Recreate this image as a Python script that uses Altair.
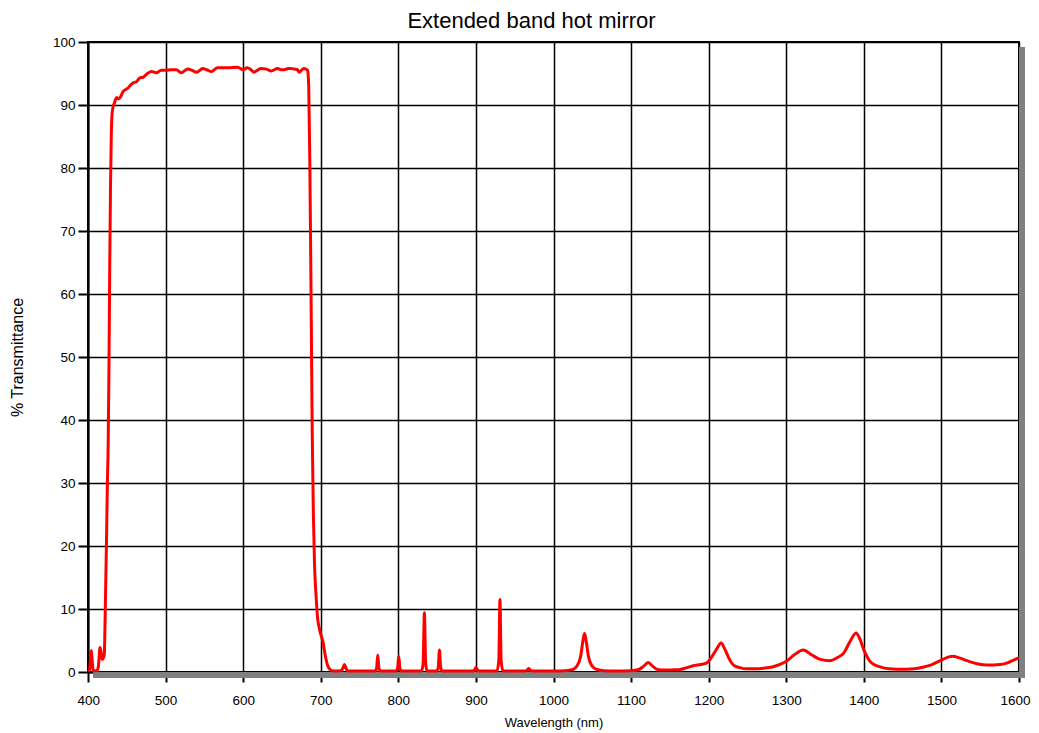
import altair as alt
import pandas as pd

wavelength = [400, 402, 403.2, 404.3, 405.3, 406.5, 411.5, 413.5, 415.5, 417, 418.5, 420, 421,
              422, 423, 424, 425, 426, 427, 428, 429, 430, 431, 432.5, 434, 435.5, 437, 438.5,
              440, 442, 445, 448, 451.6, 455, 458, 462.5, 466.8, 471, 475.6, 479, 482, 486,
              488.6, 492, 495, 501, 507, 514, 520, 524, 529, 534, 540, 548, 553, 559, 567,
              580, 593, 600, 605, 610, 614, 618, 623, 630, 636, 644.5, 649, 653, 658, 661,
              666, 670, 672, 675, 678, 681, 683, 684.5, 686, 687.5, 689, 690.5, 692, 694,
              696, 698, 700, 703, 706, 709, 712, 716, 726, 728.5, 730.5, 732.5, 735,
              770, 772, 773.5, 775, 777, 797, 799, 800.5, 802, 804,
              830, 832, 833.6, 835.2, 837, 849.5, 851.5, 853, 854.5, 856.5,
              896, 898.5, 900, 901.5, 904, 927, 929.5, 931, 932.5, 935,
              963, 966, 968, 970, 973, 1000, 1015, 1025, 1030, 1035, 1038, 1040, 1042,
              1045, 1050, 1056, 1065, 1080, 1100, 1110, 1116, 1122, 1128, 1134, 1145,
              1155, 1163, 1172, 1180, 1190, 1197, 1203, 1210, 1216, 1221, 1226, 1232,
              1240, 1249, 1260, 1271, 1282, 1292, 1300, 1310, 1322, 1333, 1344, 1356,
              1366, 1374, 1382, 1390, 1395, 1400, 1408.6, 1421, 1432, 1443, 1455, 1465,
              1476, 1486, 1500, 1514, 1524, 1533, 1546, 1559, 1576, 1586, 1593, 1600]

transmittance = [0.2, 0.3, 2.0, 3.4, 2.0, 0.2, 0.2, 1.0, 3.9, 3.0, 2.0, 2.3, 2.8,
                 8, 15, 22, 30, 36, 48, 64, 77, 85, 88.5, 89.8, 90.3, 90.9, 91.2, 91.0,
                 91.0, 91.3, 92.1, 92.4, 92.7, 93.2, 93.5, 93.7, 94.3, 94.4, 94.9, 95.2, 95.3, 95.2,
                 95.1, 95.4, 95.5, 95.5, 95.6, 95.6, 95.1, 95.4, 95.7, 95.5, 95.2, 95.8, 95.6, 95.3, 95.9,
                 95.9, 96.0, 95.6, 95.9, 95.6, 95.2, 95.5, 95.8, 95.7, 95.4, 95.8, 95.6, 95.6, 95.8, 95.8,
                 95.7, 95.6, 95.2, 95.5, 95.8, 95.7, 95.5, 93, 80, 60, 38, 25, 17, 12,
                 8.5, 7, 6, 4.7, 2.5, 1.0, 0.4, 0.15, 0.2, 0.6, 1.2, 0.6, 0.15,
                 0.15, 0.6, 2.7, 0.6, 0.15, 0.15, 0.6, 2.5, 0.6, 0.15,
                 0.15, 1.5, 9.4, 1.5, 0.15, 0.15, 0.8, 3.5, 0.8, 0.15,
                 0.15, 0.4, 0.7, 0.4, 0.15, 0.15, 1.8, 11.5, 1.8, 0.15,
                 0.15, 0.3, 0.55, 0.3, 0.15, 0.15, 0.2, 0.4, 0.9, 2.5, 5, 6.1, 5,
                 2.5, 0.9, 0.4, 0.2, 0.15, 0.2, 0.4, 0.9, 1.5, 0.9, 0.4, 0.3,
                 0.35, 0.4, 0.7, 1.0, 1.2, 1.4, 2.2, 3.6, 4.6, 3.6, 2.2, 1.1,
                 0.7, 0.5, 0.5, 0.6, 0.8, 1.2, 1.7, 2.7, 3.5, 2.7, 2.0, 1.8,
                 2.3, 3.0, 4.8, 6.2, 5.2, 3.5, 1.6, 0.8, 0.5, 0.45, 0.45, 0.5,
                 0.75, 1.1, 1.9, 2.5, 2.2, 1.8, 1.3, 1.1, 1.2, 1.5, 1.9, 2.25]

x_ticks = list(range(400, 1601, 100))
y_ticks = list(range(0, 101, 10))
chart_title = "Extended band hot mirror"

W, H = 931, 630
FONT = "Liberation Sans"

df = pd.DataFrame({"wl": wavelength, "t": transmittance})

one = alt.Data(values=[{}])

shadow_right = alt.Chart(one).mark_rect(color="#808080").encode(
    x=alt.value(W), x2=alt.value(W + 6), y=alt.value(5), y2=alt.value(H + 6)
)
shadow_bottom = alt.Chart(one).mark_rect(color="#808080").encode(
    x=alt.value(5), x2=alt.value(W + 6), y=alt.value(H), y2=alt.value(H + 6)
)
title_text = alt.Chart(one).mark_text(
    font=FONT, fontSize=22, color="black", align="center", baseline="middle"
).encode(x=alt.value(W / 2 - 22), y=alt.value(-21), text=alt.value(chart_title))

line = alt.Chart(df).mark_line(color="#FF0000", strokeWidth=3, interpolate="monotone").encode(
    x=alt.X("wl:Q", scale=alt.Scale(domain=[400, 1600], nice=False, zero=False),
            axis=alt.Axis(values=x_ticks, format="d", title="Wavelength (nm)", grid=True,
                          titleX=W / 2, titleY=50, titleBaseline="middle",
                          titleFontSize=13, titleFontWeight="normal", labelFontSize=13.5,
                          tickSize=10, labelPadding=11, labelFlush=True,
                          labelFlushOffset=11)),
    y=alt.Y("t:Q", scale=alt.Scale(domain=[0, 100], nice=False),
            axis=alt.Axis(values=y_ticks, format="d", title="% Transmittance", grid=True,
                          titleX=-71, titleY=H / 2, titleAngle=-90, titleAlign="center",
                          titleBaseline="middle", titleFontSize=16, titleFontWeight="normal",
                          labelFontSize=13.5, tickSize=10, labelPadding=3)),
)

chart = alt.layer(shadow_right, shadow_bottom, line, title_text).properties(
    width=W, height=H,
    autosize=alt.AutoSizeParams(type="none"),
    padding={"left": 80, "top": 34, "right": 12, "bottom": 58},
).configure_view(
    stroke="black", strokeWidth=2
).configure_axis(
    labelFont=FONT, titleFont=FONT, labelColor="black", titleColor="black",
    gridColor="black", gridWidth=1.5, gridOpacity=1,
    domainColor="black", domainWidth=2, tickColor="black", tickWidth=2,
)

chart.save("out.html", embed_options={"renderer": "svg", "actions": False})
